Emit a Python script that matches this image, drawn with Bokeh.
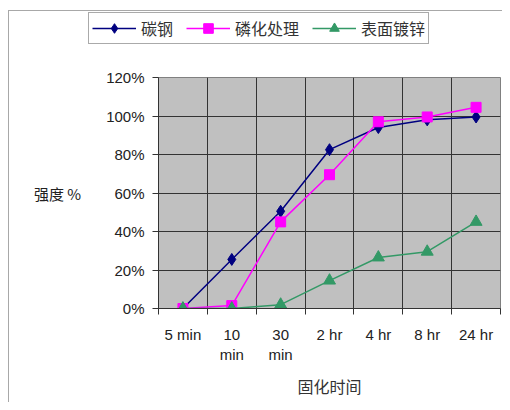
from bokeh.plotting import figure
from bokeh.layouts import column
from bokeh.models import (FixedTicker, NumeralTickFormatter, Range1d, Legend,
                          LegendItem)
from bokeh.embed import file_html
from bokeh.resources import INLINE

categories = ["5 min", "10\nmin", "30\nmin", "2 hr", "4 hr", "8 hr", "24 hr"]
carbon_steel = [0.0, 0.255, 0.505, 0.825, 0.94, 0.98, 0.995]
phosphated = [0.0, 0.015, 0.45, 0.695, 0.97, 0.995, 1.045]
galvanized = [0.0, 0.0, 0.02, 0.145, 0.265, 0.295, 0.45]
y_ticks = [0.0, 0.2, 0.4, 0.6, 0.8, 1.0, 1.2]

series = [
    ("碳钢", carbon_steel, "#000080", "diamond", 12),
    ("磷化处理", phosphated, "#FF00FF", "square", 10),
    ("表面镀锌", galvanized, "#339966", "triangle", 12),
]

n = len(categories)
xs = [i + 0.5 for i in range(n)]

W = 493
p = figure(width=W, height=342, output_backend="svg", toolbar_location=None,
           x_range=Range1d(0, n), y_range=Range1d(0, 1.2),
           min_border_left=149, min_border_right=2, min_border_top=17,
           min_border_bottom=94)
p.frame_align = False

p.background_fill_color = "#C0C0C0"
p.border_fill_color = "white"
p.outline_line_color = "#808080"
p.outline_line_width = 1

# grid
p.xgrid.ticker = FixedTicker(ticks=list(range(n + 1)))
p.xgrid.grid_line_color = "#333333"
p.xgrid.grid_line_width = 1
p.ygrid.ticker = FixedTicker(ticks=y_ticks)
p.ygrid.grid_line_color = "#333333"
p.ygrid.grid_line_width = 1

# x axis
xa = p.xaxis[0]
xa.ticker = FixedTicker(ticks=xs, minor_ticks=list(range(n + 1)))
xa.major_label_overrides = {x: c for x, c in zip(xs, categories)}
xa.major_tick_line_color = None
xa.major_tick_out = 0
xa.major_tick_in = 0
xa.minor_tick_out = 6
xa.minor_tick_in = 0
xa.minor_tick_line_color = "#333333"
xa.axis_line_color = "#333333"
xa.major_label_standoff = 11
xa.major_label_text_font = "Liberation Sans"
xa.major_label_text_font_size = "15px"
xa.major_label_text_color = "#222222"
xa.axis_label = "固化时间"
xa.axis_label_text_font = "Noto Sans CJK SC"
xa.axis_label_text_font_style = "normal"
xa.axis_label_text_font_size = "16px"
xa.axis_label_text_color = "#333333"
xa.axis_label_standoff = 8

# y axis
ya = p.yaxis[0]
ya.ticker = FixedTicker(ticks=y_ticks)
ya.formatter = NumeralTickFormatter(format="0%")
ya.major_tick_out = 6
ya.major_tick_in = 0
ya.minor_tick_line_color = None
ya.major_tick_line_color = "#333333"
ya.axis_line_color = "#333333"
ya.major_label_standoff = 8
ya.major_label_text_font = "Liberation Sans"
ya.major_label_text_font_size = "15px"
ya.major_label_text_color = "#222222"
ya.axis_label = "强度 %"
ya.axis_label_orientation = "horizontal"
ya.axis_label_text_font = "Noto Sans CJK SC"
ya.axis_label_text_font_style = "normal"
ya.axis_label_text_font_size = "15px"
ya.axis_label_text_color = "#222222"
ya.axis_label_standoff = 22

for name, vals, color, marker, size in series:
    p.line(xs, vals, line_color=color, line_width=1.5)
    p.scatter(xs, vals, marker=marker, size=size, fill_color=color,
              line_color=color)

# legend strip above the chart (its own data lie outside its view)
LH = 49
lf = figure(width=W, height=LH, output_backend="svg", toolbar_location=None,
            x_range=Range1d(0, 1), y_range=Range1d(10, 11),
            min_border=0, min_border_left=0, min_border_right=0,
            min_border_top=0, min_border_bottom=0)
lf.frame_align = False
lf.axis.visible = False
lf.grid.visible = False
lf.outline_line_color = None
lf.border_fill_color = "white"
lf.background_fill_color = "white"

items = []
for name, vals, color, marker, size in series:
    lr = lf.line(xs, vals, line_color=color, line_width=1.5)
    sr = lf.scatter(xs, vals, marker=marker, size=size, fill_color=color,
                    line_color=color)
    items.append(LegendItem(label=name, renderers=[lr, sr]))

legend = Legend(items=items, orientation="horizontal", location=(79, 16))
legend.border_line_color = "#555555"
legend.border_line_width = 1
legend.background_fill_color = "white"
legend.background_fill_alpha = 1
legend.label_text_font = "Noto Sans CJK SC"
legend.label_text_font_size = "16px"
legend.label_text_color = "#333333"
legend.glyph_width = 44
legend.glyph_height = 24
legend.label_standoff = 5
legend.spacing = 13
legend.padding = 3
legend.margin = 0
lf.add_layout(legend, "center")

layout = column(lf, p, spacing=0,
                styles={"border-left": "1px solid #a8a8a8",
                        "border-top": "1px solid #a8a8a8",
                        "margin-left": "8px", "margin-top": "10px"})

open("out.html", "w").write(file_html(layout, INLINE))
